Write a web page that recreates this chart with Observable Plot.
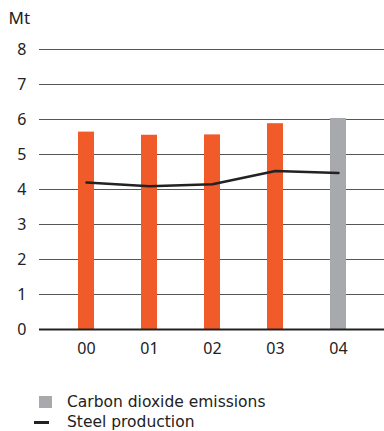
<!DOCTYPE html>
<html>
<head>
<meta charset="utf-8">
<script src="https://cdn.jsdelivr.net/npm/d3@7"></script>
<script src="https://cdn.jsdelivr.net/npm/@observablehq/plot@0.6"></script>
<style>
  body { margin: 0; background: #fff; font-family: "Noto Sans", "Open Sans", sans-serif; color: #222; }
  #chart svg { display: block; }
  .legend { position: relative; height: 56px; font-family: "DejaVu Sans", sans-serif; font-size: 15.5px; }
  .legend .row { position: absolute; left: 0; display: flex; align-items: center; height: 18px; }
  .legend .row .label { display: block; line-height: 18px; height: 18px; }
  .legend .swatch { width: 13px; height: 12px; background: #a7a9ac; margin-left: 39px; margin-right: 15px; }
  .legend .lineSwatch { width: 15px; height: 3px; background: #222; margin-left: 34px; margin-right: 18px; }
</style>
</head>
<body>
<div id="chart"></div>
<script>
// Years (two-digit labels), CO2 emissions and steel production in Mt
const years = ["00", "01", "02", "03", "04"];
const emissions = [5.64, 5.55, 5.56, 5.88, 6.03];
const steel = [4.20, 4.09, 4.15, 4.53, 4.47];
const yTicks = [0, 1, 2, 3, 4, 5, 6, 7, 8];
const unitLabel = "Mt";

const rows = years.map((year, i) => ({year, emissions: emissions[i], steel: steel[i]}));
const orange = "#f15a29";
const gray = "#a7a9ac";

const chart = Plot.plot({
  width: 384,
  height: 375,
  marginTop: 49,
  marginLeft: 39,
  marginRight: 0,
  marginBottom: 46,
  style: {fontFamily: "'Noto Sans', 'Open Sans', sans-serif", fontSize: "16px", color: "#222"},
  x: {domain: years, paddingInner: 0.75, paddingOuter: 0.6, label: null},
  y: {domain: [0, 8], label: null},
  marks: [
    Plot.ruleY(yTicks.filter(t => t > 0), {stroke: "#555", strokeWidth: 1}),
    Plot.barY(rows, {x: "year", y: "emissions", fill: d => d.year === "04" ? gray : orange}),
    Plot.lineY(rows, {x: "year", y: "steel", stroke: "#222", strokeWidth: 2.5}),
    Plot.ruleY([0], {stroke: "#222", strokeWidth: 2}),
    Plot.axisY({ticks: yTicks, tickSize: 0, tickPadding: 13, label: null}),
    Plot.axisX({tickSize: 0, tickPadding: 13, label: null}),
    Plot.text([unitLabel], {frameAnchor: "top-left", dx: -31, dy: -38, textAnchor: "start", fontSize: 17})
  ]
});
document.getElementById("chart").appendChild(chart);

// Legend below the chart
const legend = document.createElement("div");
legend.className = "legend";
legend.innerHTML =
  '<div class="row" style="top:18px"><span class="swatch"></span><span class="label">Carbon dioxide emissions</span></div>' +
  '<div class="row" style="top:38px"><span class="lineSwatch"></span><span class="label">Steel production</span></div>';
document.body.appendChild(legend);
</script>
</body>
</html>
